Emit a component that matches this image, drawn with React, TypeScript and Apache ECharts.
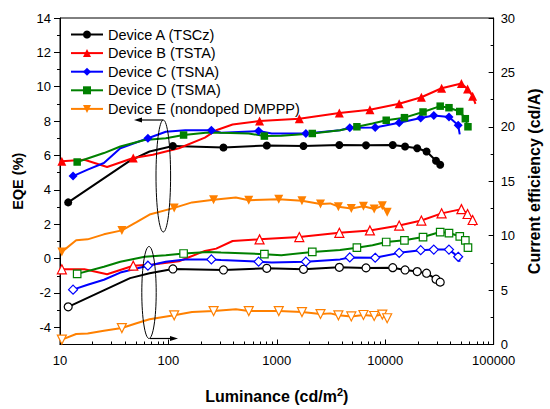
import React, { useEffect, useRef } from 'react';
import * as echarts from 'echarts';

// Device A (TSCz)
const lumA = [11.9, 44.3, 67, 110, 322, 808, 1762, 3773, 6650, 11730, 15240, 19720, 24050, 29400, 32140];
const eqeA = [3.27, 5.7, 6.23, 6.55, 6.46, 6.58, 6.55, 6.61, 6.59, 6.61, 6.52, 6.42, 6.23, 5.69, 5.46];
const ceA = [3.46, 6.1, 6.55, 6.94, 6.85, 7.0, 6.91, 7.09, 7.04, 7.06, 6.85, 6.7, 6.55, 6.0, 5.73];
const mkA = [1, 0, 0, 1, 1, 1, 1, 1, 1, 1, 1, 1, 1, 1, 1];

// Device B (TSTA)
const lumB = [10.4, 16.8, 27.2, 47.4, 71.8, 125, 217, 276, 391, 693, 1612, 3773, 7224, 13450, 21540, 33110, 50430, 57470, 64000, 68000];
const eqeB = [5.66, 5.75, 5.33, 5.85, 6.04, 6.42, 7.04, 7.47, 7.8, 8.01, 8.14, 8.47, 8.66, 9.01, 9.39, 9.91, 10.19, 9.87, 9.45, 9.0];
const ceB = [6.91, 6.91, 6.46, 7.24, 7.35, 7.65, 8.6, 8.81, 9.51, 9.66, 9.87, 10.26, 10.48, 10.93, 11.39, 12.05, 12.44, 11.99, 11.44, 10.93];
const mkB = [1, 0, 0, 1, 0, 0, 0, 0, 0, 1, 1, 1, 1, 1, 1, 1, 1, 1, 1, 0];

// Device C (TSNA)
const lumC = [13.2, 18.0, 25.4, 36.0, 64.7, 94.6, 143, 249, 306, 679, 896, 1853, 3830, 4710, 8080, 13450, 21240, 28050, 38730, 47100, 48680];
const eqeC = [4.8, 5.18, 5.56, 6.42, 7.0, 7.38, 7.47, 7.47, 7.32, 7.42, 7.28, 7.28, 7.47, 7.61, 7.63, 7.9, 8.18, 8.33, 8.24, 7.76, 7.23];
const ceC = [5.04, 5.49, 5.95, 6.61, 7.24, 7.61, 7.82, 7.82, 7.76, 7.61, 7.54, 7.61, 7.82, 8.0, 7.97, 8.42, 8.67, 8.72, 8.72, 8.06, 7.61];
const mkC = [1, 0, 0, 0, 1, 0, 0, 1, 0, 1, 0, 1, 0, 1, 1, 1, 1, 1, 1, 1, 0];

// Device D (TSMA)
const lumD = [14.4, 25.4, 36.0, 60.4, 94.6, 138, 233, 306, 551, 768, 1101, 2124, 3830, 5478, 7634, 10210, 15040, 22320, 32140, 38730, 48680, 54800, 57970];
const eqeD = [5.62, 6.14, 6.52, 6.9, 7.0, 7.19, 7.34, 7.32, 7.28, 7.13, 7.15, 7.28, 7.47, 7.67, 7.86, 8.05, 8.2, 8.53, 8.87, 8.78, 8.56, 8.14, 7.67];
const ceD = [6.49, 7.15, 7.61, 8.06, 8.21, 8.36, 8.51, 8.45, 8.36, 8.3, 8.21, 8.51, 8.68, 8.9, 9.12, 9.42, 9.57, 9.87, 10.33, 10.24, 9.94, 9.57, 8.9];
const mkD = [1, 0, 0, 0, 0, 1, 0, 0, 0, 1, 0, 1, 0, 1, 0, 1, 1, 1, 1, 1, 1, 1, 1];

// Device E (nondoped DMPPP)
const lumE = [10.4, 14.1, 18.0, 25.4, 37.2, 50.8, 67, 113, 165, 261, 419, 551, 1042, 1705, 2529, 3112, 3697, 4866, 6297, 7909, 9397, 10420];
const eqeE = [0.39, 1.07, 1.12, 1.41, 1.64, 2.12, 2.56, 2.95, 3.27, 3.42, 3.55, 3.4, 3.45, 3.36, 3.17, 3.21, 3.02, 2.92, 3.04, 2.88, 3.08, 2.69];
const ceE = [0.45, 0.96, 1.02, 1.26, 1.51, 1.95, 2.32, 2.68, 2.98, 3.07, 3.23, 3.07, 3.07, 2.98, 2.8, 2.86, 2.68, 2.58, 2.71, 2.62, 2.75, 2.41];
const mkE = [1, 0, 0, 0, 1, 0, 0, 1, 0, 1, 0, 1, 1, 1, 1, 0, 1, 1, 1, 1, 1, 1];

const deviceNames = ['Device A (TSCz)', 'Device B (TSTA)', 'Device C (TSNA)', 'Device D (TSMA)', 'Device E (nondoped DMPPP)'];
const xTickLabels = [10, 100, 1000, 10000, 100000];
const xMinorTicks = [20, 30, 40, 50, 60, 70, 80, 90, 200, 300, 400, 500, 600, 700, 800, 900, 2000, 3000, 4000, 5000, 6000, 7000, 8000, 9000, 20000, 30000, 40000, 50000, 60000, 70000, 80000, 90000];
const leftLabels = [-4, -2, 0, 2, 4, 6, 8, 10, 12, 14];
const leftMinor = [-3, -1, 1, 3, 5, 7, 9, 11, 13];

const FONT = '"Liberation Sans", Arial, Helvetica, sans-serif';

const devices = [
  { lum: lumA, eqe: eqeA, ce: ceA, mk: mkA, color: '#000000', symbol: 'circle', rot: 0, size: 8 },
  { lum: lumB, eqe: eqeB, ce: ceB, mk: mkB, color: '#ff0000', symbol: 'triangle', rot: 0, size: 9 },
  { lum: lumC, eqe: eqeC, ce: ceC, mk: mkC, color: '#0000ff', symbol: 'diamond', rot: 0, size: 9 },
  { lum: lumD, eqe: eqeD, ce: ceD, mk: mkD, color: '#008000', symbol: 'rect', rot: 0, size: 7.5 },
  { lum: lumE, eqe: eqeE, ce: ceE, mk: mkE, color: '#ff8000', symbol: 'triangle', rot: 180, size: 9 },
];

function buildSeries() {
  const series: any[] = [];
  devices.forEach((d, k) => {
    const mkData = (vals: number[]) =>
      d.lum.map((x, i) => (d.mk[i] ? { value: [x, vals[i]] } : { value: [x, vals[i]], symbol: 'none' }));
    series.push({
      name: deviceNames[k] + ' CE',
      type: 'line',
      xAxisIndex: 0,
      yAxisIndex: 1,
      data: mkData(d.ce),
      symbol: d.symbol,
      symbolRotate: d.rot,
      symbolSize: d.size,
      showAllSymbol: true,
      lineStyle: { color: d.color, width: 2 },
      itemStyle: { color: '#ffffff', borderColor: d.color, borderWidth: 1.2 },
      z: 2,
    });
  });
  devices.forEach((d, k) => {
    const mkData = (vals: number[]) =>
      d.lum.map((x, i) => (d.mk[i] ? { value: [x, vals[i]] } : { value: [x, vals[i]], symbol: 'none' }));
    series.push({
      name: deviceNames[k],
      type: 'line',
      xAxisIndex: 0,
      yAxisIndex: 0,
      data: mkData(d.eqe),
      symbol: d.symbol,
      symbolRotate: d.rot,
      symbolSize: d.size,
      showAllSymbol: true,
      lineStyle: { color: d.color, width: 2 },
      itemStyle: { color: d.color, borderColor: d.color, borderWidth: 0 },
      z: 3,
    });
  });
  return series;
}

export default function App() {
  const ref = useRef<HTMLDivElement>(null);
  useEffect(() => {
    const chart = echarts.init(ref.current!, null, { renderer: 'svg' });
    const axisLine = { show: true, onZero: false, lineStyle: { color: '#000', width: 1 } };
    const labelStyle = { color: '#000', fontSize: 13, fontFamily: FONT };
    chart.setOption({
      animation: false,
      backgroundColor: '#fff',
      grid: { left: 60, right: 46, top: 18, bottom: 60, show: true, borderColor: '#000', borderWidth: 1, backgroundColor: 'transparent' },
      legend: {
        data: deviceNames,
        orient: 'vertical',
        left: 70,
        top: 27,
        padding: 0,
        itemWidth: 32,
        itemHeight: 10,
        itemGap: 3.6,
        textStyle: { color: '#000', fontSize: 14.5, fontFamily: FONT },
      },
      xAxis: [
        {
          type: 'log',
          logBase: 10,
          min: 10,
          max: 100000,
          position: 'bottom',
          axisLine,
          axisTick: { show: true, inside: true, length: 5, lineStyle: { color: '#000' } },
          axisLabel: { ...labelStyle, margin: 9, formatter: (v: number) => String(Math.round(v)), customValues: xTickLabels },
          splitLine: { show: false },
          name: 'Luminance (cd/m{sup|2})',
          nameLocation: 'middle',
          nameGap: 42,
          nameTextStyle: {
            color: '#000', fontSize: 16, fontWeight: 'bold', fontFamily: FONT,
            rich: { sup: { fontSize: 11, fontWeight: 'bold', fontFamily: FONT, verticalAlign: 'top', padding: [0, 0, 8, 0] } },
          },
        },
        {
          type: 'log',
          logBase: 10,
          min: 10,
          max: 100000,
          position: 'bottom',
          axisLine: { show: false, onZero: false },
          axisTick: { show: true, inside: true, length: 3, lineStyle: { color: '#000' }, customValues: xMinorTicks },
          axisLabel: { show: false },
          splitLine: { show: false },
        },
      ],
      yAxis: [
        {
          type: 'value',
          min: -5,
          max: 14,
          position: 'left',
          axisLine,
          axisTick: { show: true, inside: false, length: 6, lineStyle: { color: '#000' }, customValues: leftLabels },
          axisLabel: { ...labelStyle, margin: 9, customValues: leftLabels },
          splitLine: { show: false },
          name: 'EQE (%)',
          nameLocation: 'middle',
          nameRotate: 90,
          nameGap: 34,
          nameTextStyle: { color: '#000', fontSize: 14.5, fontWeight: 'bold', fontFamily: FONT },
        },
        {
          type: 'value',
          min: 0,
          max: 30,
          interval: 5,
          position: 'right',
          axisLine,
          axisTick: { show: true, inside: true, length: 5, lineStyle: { color: '#000' } },
          minorTick: { show: true, splitNumber: 2, length: 3, lineStyle: { color: '#000' } },
          axisLabel: { ...labelStyle, margin: 7 },
          splitLine: { show: false },
          minorSplitLine: { show: false },
          name: 'Current efficiency (cd/A)',
          nameLocation: 'middle',
          nameRotate: 90,
          nameGap: 30,
          nameTextStyle: { color: '#000', fontSize: 16, fontWeight: 'bold', fontFamily: FONT },
        },
        {
          type: 'value',
          min: -5,
          max: 14,
          position: 'left',
          axisLine: { show: false, onZero: false },
          axisTick: { show: true, inside: false, length: 3, lineStyle: { color: '#000' }, customValues: leftMinor },
          axisLabel: { show: false },
          splitLine: { show: false },
        },
      ],
      series: buildSeries(),
      graphic: [
        { type: 'ellipse', shape: { cx: 163.3, cy: 176, rx: 7.3, ry: 56 }, style: { fill: 'none', stroke: '#000', lineWidth: 1 }, z: 10 },
        { type: 'line', shape: { x1: 163, y1: 120, x2: 140, y2: 120 }, style: { stroke: '#000', lineWidth: 1.2 }, z: 10 },
        { type: 'polygon', shape: { points: [[134, 120], [142, 117.5], [142, 122.5]] }, style: { fill: '#000' }, z: 10 },
        { type: 'ellipse', shape: { cx: 149, cy: 292.5, rx: 7.2, ry: 46 }, style: { fill: 'none', stroke: '#000', lineWidth: 1 }, z: 10 },
        { type: 'line', shape: { x1: 150, y1: 338.5, x2: 172, y2: 338.5 }, style: { stroke: '#000', lineWidth: 1.2 }, z: 10 },
        { type: 'polygon', shape: { points: [[178, 338.5], [170, 336], [170, 341]] }, style: { fill: '#000' }, z: 10 },
      ],
    });
    return () => chart.dispose();
  }, []);
  return <div ref={ref} style={{ position: 'fixed', left: 0, top: 0, width: 550, height: 409, background: '#fff' }} />;
}
